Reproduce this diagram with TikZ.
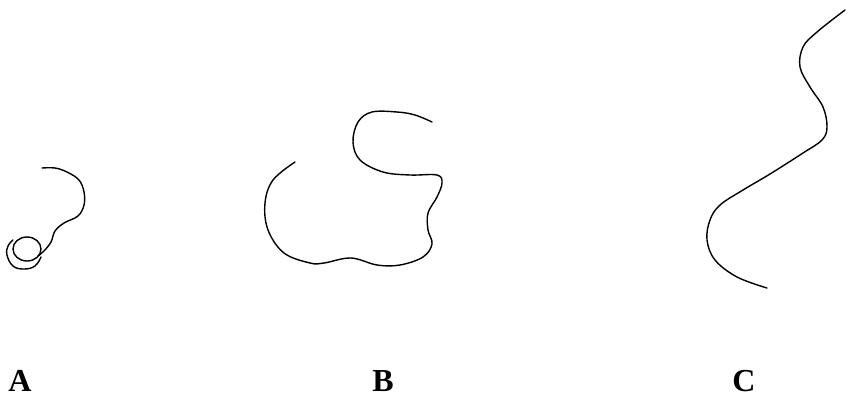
\documentclass[tikz,border=0pt]{standalone}
\usepackage{fontspec}
\setmainfont{Liberation Serif}
\begin{document}
\begin{tikzpicture}[x=1pt,y=-1pt,
  fibre/.style={line width=1.4pt,line cap=round,line join=round},
  lab/.style={font=\fontsize{32}{34}\selectfont\bfseries,anchor=base,inner sep=0pt}]
\useasboundingbox (0,0) rectangle (848,397);
% A
\draw[fibre] plot[smooth,tension=0.6] coordinates {(42,168) (55,168) (67,172) (79,180) (84,192) (84,205) (78,216) (64,223) (55,231) (51,242) (44,251) (38,256)};
\draw[fibre] (27,249) ellipse [x radius=14,y radius=12];
\draw[fibre] plot[smooth,tension=0.7] coordinates {(41,257) (35,266) (24,269) (13,266) (7,255) (8,246) (13,240)};
% B
\draw[fibre] plot[smooth,tension=0.6] coordinates {(432,122) (415,115) (397,112) (372,112) (358,122) (353,142) (360,160) (383,172) (410,175) (437,175) (442,183) (437,197) (428,213) (428,230) (432,244) (423,257) (400,265) (377,265) (351,258) (324,263) (310,263) (284,253) (268,230) (265,203) (273,180) (295,162)};
% C
\draw[fibre] plot[smooth,tension=0.6] coordinates {(845,10) (817,32) (803,47) (800,67) (810,87) (823,107) (827,127) (822,140) (803,153) (770,174) (743,190) (720,205) (710,220) (707,240) (715,260) (737,277) (767,288)};
\node[lab] (la) at (20,391) {A};
\node[lab] (lb) at (383,391) {B};
\node[lab] (lc) at (744,391) {C};
\end{tikzpicture}
\end{document}
